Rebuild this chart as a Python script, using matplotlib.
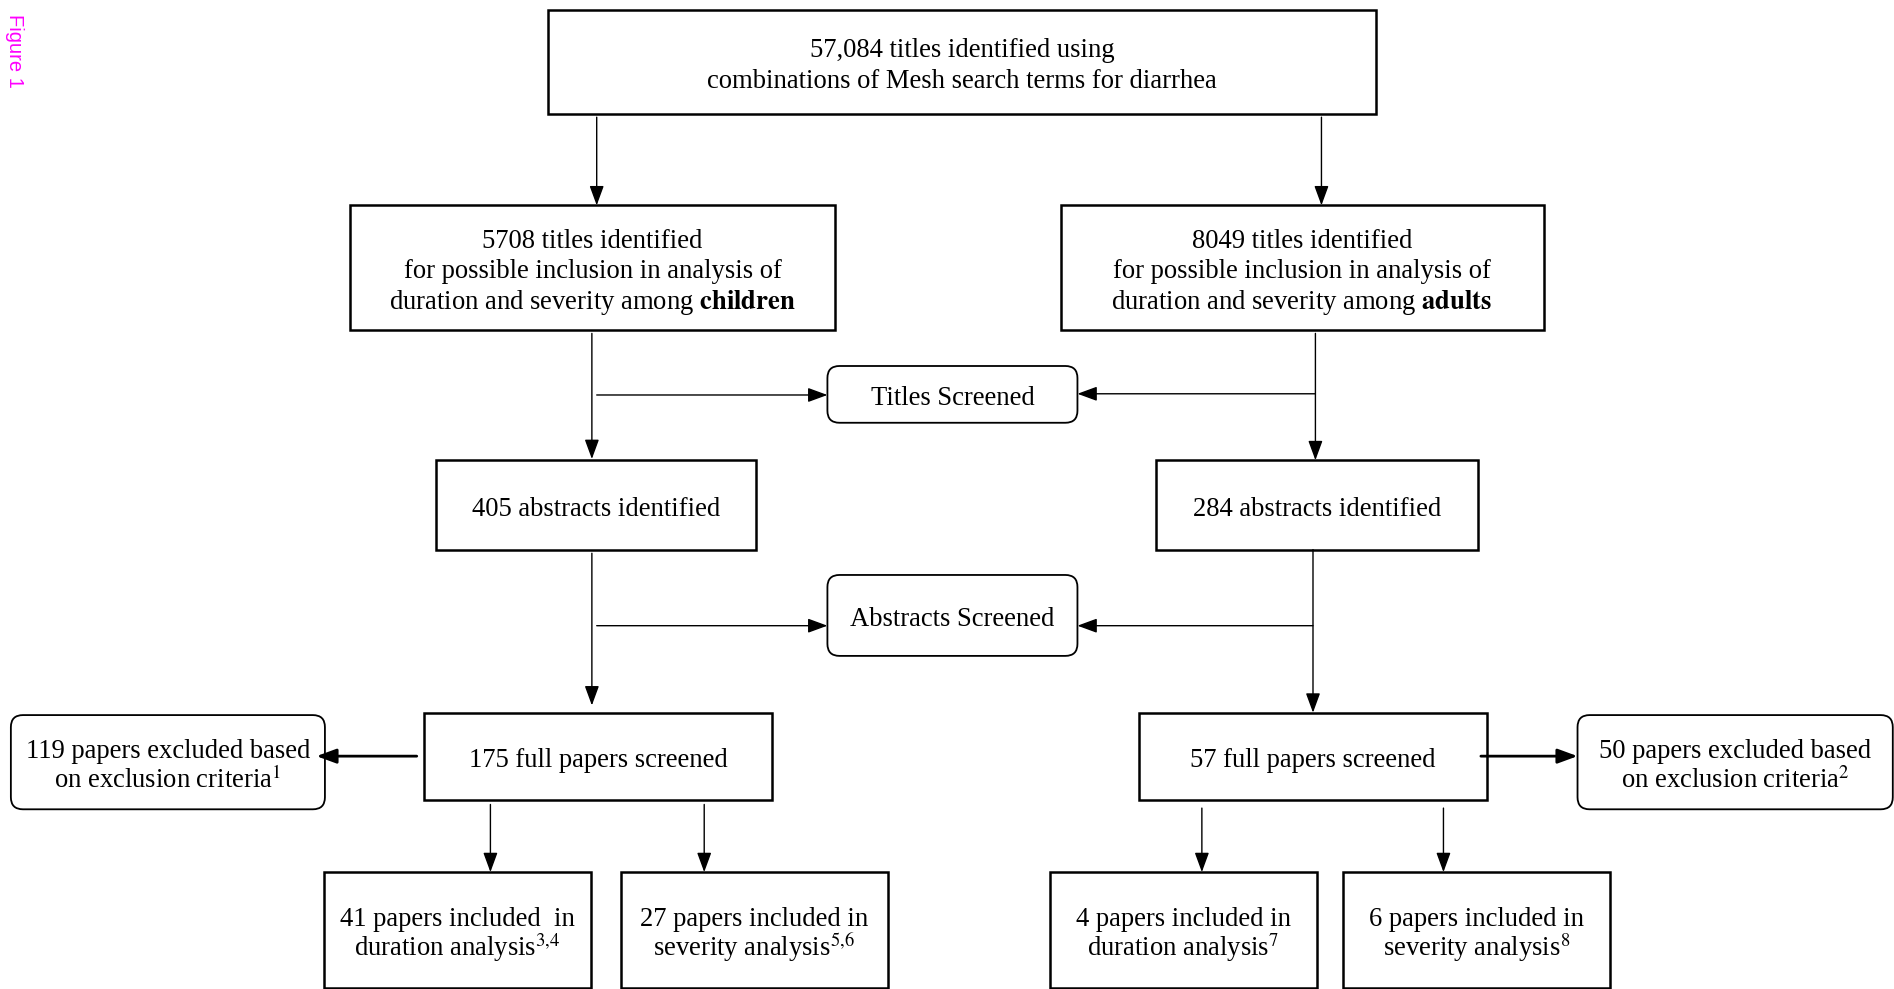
import matplotlib.pyplot as plt
from matplotlib.patches import Rectangle, FancyBboxPatch

plt.rcParams['font.family'] = 'Liberation Serif'
plt.rcParams['mathtext.fontset'] = 'stix'

# counts shown in the flow diagram
total_titles = '57,084'
titles_children = 5708
titles_adults = 8049
abstracts_children = 405
abstracts_adults = 284
full_children = 175
full_adults = 57
excluded_children = 119
excluded_adults = 50
duration_children = 41
severity_children = 27
duration_adults = 4
severity_adults = 6

# square boxes: (x0, y0, x1, y1, lines)
boxes = [
    (454, 8, 1139, 94, [total_titles + ' titles identified using',
                        'combinations of Mesh search terms for diarrhea']),
    (290, 170, 691, 273, ['%d titles identified' % titles_children,
                          'for possible inclusion in analysis of',
                          'duration and severity among $\\mathbf{children}$']),
    (878, 170, 1278, 273, ['%d titles identified' % titles_adults,
                           'for possible inclusion in analysis of',
                           'duration and severity among $\\mathbf{adults}$']),
    (361, 381, 626, 455, ['%d abstracts identified' % abstracts_children]),
    (957, 381, 1224, 455, ['%d abstracts identified' % abstracts_adults]),
    (351, 590, 639, 662, ['%d full papers screened' % full_children]),
    (943, 590, 1231, 662, ['%d full papers screened' % full_adults]),
    (268, 722, 489, 818, ['%d papers included  in' % duration_children,
                          'duration analysis$^{3{,}4}$']),
    (514, 722, 735, 818, ['%d papers included in' % severity_children,
                          'severity analysis$^{5{,}6}$']),
    (869, 722, 1090, 818, ['%d papers included in' % duration_adults,
                           'duration analysis$^{7}$']),
    (1112, 722, 1333, 818, ['%d papers included in' % severity_adults,
                            'severity analysis$^{8}$']),
]

# rounded boxes
rounded = [
    (685, 303, 892, 350, ['Titles Screened']),
    (685, 476, 892, 543, ['Abstracts Screened']),
    (9, 592, 269, 670, ['%d papers excluded based' % excluded_children,
                        'on exclusion criteria$^{1}$']),
    (1306, 592, 1567, 670, ['%d papers excluded based' % excluded_adults,
                            'on exclusion criteria$^{2}$']),
]

# arrows: (x_start, y_start, x_end, y_end, width)
arrows = [
    (494, 97, 494, 170, 1.0),
    (1094, 97, 1094, 170, 1.0),
    (490, 276, 490, 380, 1.0),
    (494, 327, 685, 327, 1.0),
    (1089, 276, 1089, 381, 1.0),
    (1089, 326, 892, 326, 1.0),
    (490, 458, 490, 584, 1.0),
    (494, 518, 685, 518, 1.0),
    (1087, 455, 1087, 590, 1.0),
    (1087, 518, 892, 518, 1.0),
    (345, 626, 262, 626, 2.0),
    (1226, 626, 1306, 626, 2.0),
    (406, 666, 406, 722, 1.0),
    (583, 666, 583, 722, 1.0),
    (995, 669, 995, 722, 1.0),
    (1195, 669, 1195, 722, 1.0),
]

W, H = 1568, 989 * 1568 / 1894

fig = plt.figure(figsize=(18.94, 9.89), dpi=100)
ax = fig.add_axes([0, 0, 1, 1])
ax.set_xlim(0, W)
ax.set_ylim(H, 0)
ax.axis('off')

fs = 19.2
step = 25.5


def put_lines(x0, y0, x1, y1, lines):
    cx = (x0 + x1) / 2
    cy = (y0 + y1) / 2 + 1.5
    first = cy - step * (len(lines) - 1) / 2
    for i, line in enumerate(lines):
        ax.text(cx, first + i * step + 7.5, line, ha='center', va='baseline', fontsize=fs)


for x0, y0, x1, y1, lines in boxes:
    ax.add_patch(Rectangle((x0, y0), x1 - x0, y1 - y0, fill=False, edgecolor='black', linewidth=1.8))
    put_lines(x0, y0, x1, y1, lines)

for x0, y0, x1, y1, lines in rounded:
    ax.add_patch(FancyBboxPatch((x0, y0), x1 - x0, y1 - y0,
                                boxstyle='round,pad=0,rounding_size=10',
                                fill=False, edgecolor='black', linewidth=1.3))
    put_lines(x0, y0, x1, y1, lines)

for xs, ys, xe, ye, lw in arrows:
    ax.annotate('', xy=(xe, ye), xytext=(xs, ys),
                arrowprops=dict(arrowstyle='-|>,head_length=0.6,head_width=0.22',
                                mutation_scale=20, color='black', linewidth=lw,
                                shrinkA=0, shrinkB=0))

ax.text(12, 12, 'Figure 1', rotation=-90, ha='center', va='top', color='#ff00ff',
        fontsize=14.5, family='Liberation Sans')

fig.savefig('out.png', dpi=100)
